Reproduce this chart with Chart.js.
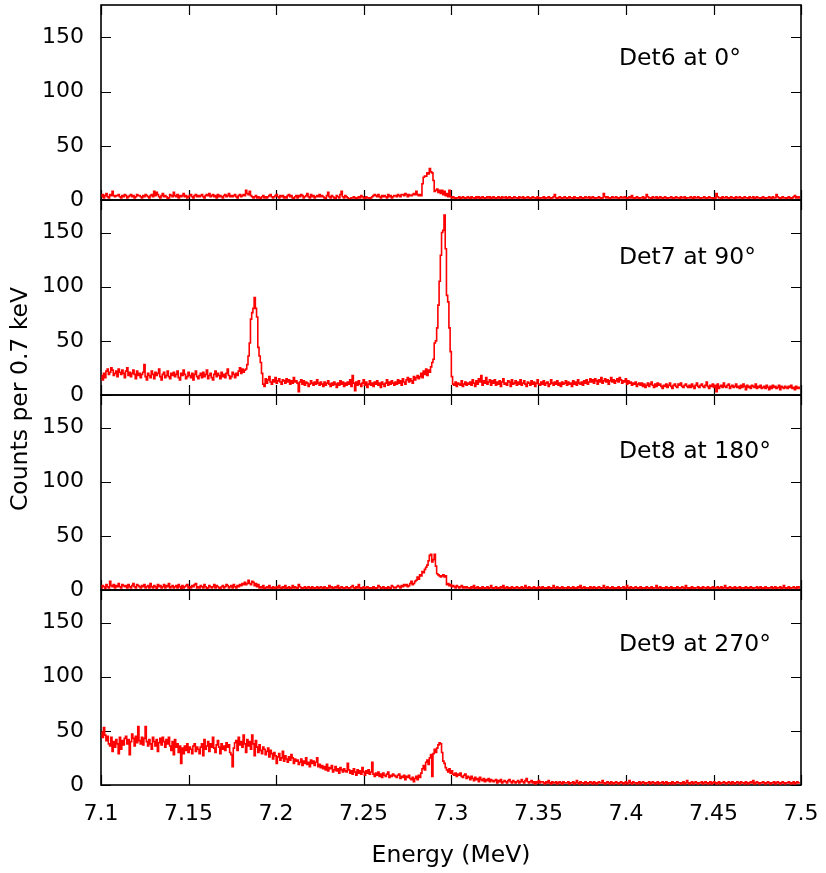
<!DOCTYPE html>
<html>
<head>
<meta charset="utf-8">
<title>Gamma spectra, Det6–Det9</title>
<script src="https://cdn.jsdelivr.net/npm/chart.js@4.4.1/dist/chart.umd.min.js"></script>
<style>
  html, body { margin: 0; padding: 0; background: #ffffff; }
  #wrap { position: relative; width: 826px; height: 873px; }
  #wrap canvas { position: absolute; left: 0; top: 0; }
</style>
</head>
<body>
<div id="wrap">
  <canvas id="p0" width="826" height="873"></canvas>
  <canvas id="p1" width="826" height="873"></canvas>
  <canvas id="p2" width="826" height="873"></canvas>
  <canvas id="p3" width="826" height="873"></canvas>
</div>
<script>
// Histogram binning (MeV)
const energyStart = 7.1;
const binWidth = 0.0007;

// Counts per 0.7 keV bin, starting at 7.1 MeV
const det6Counts = [
  3,5,2,4,6,3,2,5,4,8,4,3,4,4,5,3,2,4,3,5,
  4,2,3,4,5,3,4,2,3,5,4,4,3,2,4,3,5,4,3,2,
  4,5,3,8,4,7,5,3,2,4,6,3,4,3,1,2,5,4,3,7,
  4,3,5,2,4,3,4,6,3,4,2,3,4,5,3,2,4,5,3,4,
  3,4,5,3,2,4,5,4,6,3,4,5,3,4,2,5,3,4,3,2,
  4,5,3,4,6,3,4,3,4,5,3,2,4,5,3,4,5,4,9,6,
  5,8,4,3,2,3,4,2,3,2,1,3,4,2,3,2,3,4,5,3,
  2,3,4,5,3,2,4,3,4,2,3,2,4,5,3,4,2,1,3,4,
  2,4,3,5,4,2,3,4,6,3,2,5,3,4,2,3,4,3,5,3,
  4,3,2,1,4,7,3,2,4,3,2,1,4,3,2,5,8,3,2,4,
  3,2,1,1,2,2,3,2,1,2,3,2,4,3,2,1,3,2,2,1,
  2,3,4,5,4,3,5,3,2,4,3,4,3,2,5,3,4,2,3,4,
  4,3,5,4,3,5,5,4,6,5,3,5,4,4,5,6,5,8,5,4,
  5,4,15,21,22,22,25,24,29,26,25,18,8,9,10,7,9,6,9,5,
  8,4,6,3,9,3,2,3,2,1,2,2,3,1,2,3,2,1,2,3,
  2,1,3,2,2,1,3,2,3,1,2,3,2,1,2,3,2,3,1,2,
  3,2,1,2,3,2,1,3,2,2,3,1,2,3,2,1,2,3,2,2,
  1,3,2,2,3,1,2,2,3,2,1,2,3,2,2,1,3,2,1,2,
  2,3,1,2,2,3,2,1,2,3,5,2,1,2,3,2,1,2,3,2,
  1,2,3,2,2,1,3,2,2,1,2,3,2,1,2,3,2,2,3,1,
  2,3,2,1,2,2,3,2,1,2,6,3,2,3,2,1,2,3,2,2,
  3,2,1,2,3,2,2,3,2,1,2,3,2,4,2,1,2,3,2,1,
  2,2,3,1,2,5,3,2,2,1,3,2,2,3,1,2,3,2,1,2,
  3,2,1,2,2,3,2,1,2,3,2,2,1,3,2,2,3,1,2,2,
  2,3,2,1,3,2,2,3,2,1,2,2,3,2,1,2,3,2,2,1,
  2,1,6,3,2,2,1,3,2,2,3,2,1,2,3,2,2,1,3,2,
  2,3,2,1,2,3,2,2,1,3,2,2,3,1,2,3,2,2,1,2,
  3,2,1,2,2,3,2,1,3,2,2,5,3,2,1,2,3,2,2,1,
  2,3,2,1,2,3,4,2,3,2,3
];

const det7Counts = [
  18,14,20,16,22,24,19,21,25,23,18,20,22,17,24,21,19,23,20,16,
  22,25,18,21,17,20,23,19,15,22,18,20,16,19,21,28,17,14,20,18,
  16,22,19,15,21,18,20,24,17,14,19,21,16,18,22,17,15,20,18,21,
  17,19,22,16,14,20,18,23,19,15,17,21,18,16,20,14,19,22,17,15,
  18,20,16,21,17,19,23,15,18,20,16,14,19,22,17,20,18,15,21,17,
  19,16,20,24,18,15,17,21,19,16,20,18,22,25,20,24,21,23,24,28,
  36,48,70,76,80,90,80,72,44,36,30,20,10,8,15,11,14,17,12,10,
  14,12,16,11,13,15,12,10,14,13,11,15,12,14,10,13,11,16,12,13,
  11,3,12,14,10,13,9,12,11,8,10,13,11,9,12,10,14,11,9,12,
  10,8,12,9,11,13,10,8,11,9,12,10,7,11,9,13,10,12,8,11,
  9,12,10,14,8,18,11,4,12,9,13,10,8,11,14,9,12,7,10,13,
  9,11,8,12,10,13,9,11,7,12,10,8,11,14,9,12,10,13,11,9,
  12,10,14,11,13,9,15,12,10,14,16,12,15,13,11,17,14,16,18,15,
  17,20,16,22,19,24,18,23,21,26,30,33,48,50,62,83,105,129,150,152,
  166,135,92,86,62,40,17,10,9,12,8,11,10,9,13,8,10,12,9,11,
  10,12,9,14,11,8,13,10,15,12,18,9,13,11,16,10,12,14,9,13,
  11,14,9,12,10,13,8,12,15,10,11,9,13,12,8,14,10,11,13,9,
  12,10,14,9,11,13,10,8,12,11,9,13,10,12,8,11,14,10,9,12,
  10,13,9,11,12,8,10,14,11,9,12,10,13,9,11,8,12,10,11,13,
  9,12,10,11,8,13,10,12,9,14,11,10,12,9,13,11,14,10,12,15,
  12,14,11,15,13,10,14,12,16,11,13,15,12,14,10,13,16,12,14,11,
  13,15,12,16,14,11,13,12,15,10,13,11,12,9,11,10,12,8,10,11,
  9,11,8,10,7,9,11,8,10,12,9,7,10,8,11,9,10,8,6,9,
  8,10,7,9,11,8,6,9,10,8,7,10,9,11,8,7,9,10,8,7,
  9,7,10,8,6,9,11,8,7,9,10,8,7,9,12,8,6,9,8,10,
  7,9,3,10,6,8,9,7,11,8,7,9,10,6,8,9,7,8,10,7,
  8,6,9,7,10,8,5,9,7,8,6,9,8,7,10,6,8,7,9,6,
  7,8,6,9,7,5,8,6,9,7,8,6,7,9,5,8,7,6,8,7,
  6,8,7,9,6,7,5,8,6,7,6
];

const det8Counts = [
  2,4,3,1,5,3,2,8,4,3,5,2,4,3,6,3,2,5,4,3,
  4,2,5,3,2,4,6,3,2,5,4,3,2,4,3,5,2,3,4,2,
  6,3,2,4,3,1,5,3,4,2,3,5,2,4,3,6,2,3,4,2,
  3,4,2,5,3,1,4,2,3,4,5,2,3,2,4,3,5,6,2,3,
  2,4,3,2,5,3,1,2,4,3,2,3,5,2,4,3,2,1,3,4,
  2,3,5,4,2,3,4,2,5,3,2,4,3,5,4,6,5,7,5,6,
  9,6,5,8,7,4,6,3,5,2,3,2,4,1,2,3,2,4,2,1,
  3,2,1,3,2,4,2,1,3,2,4,1,2,3,1,2,4,2,3,2,
  1,5,3,2,1,2,3,1,2,3,2,1,3,2,1,2,3,1,2,3,
  2,1,3,2,1,2,4,2,3,1,2,3,2,4,1,2,3,2,1,2,
  3,2,1,2,3,4,2,1,3,2,5,2,1,2,3,1,2,3,2,1,
  2,1,3,2,1,2,4,3,1,2,3,1,2,1,3,2,1,4,3,2,
  2,3,4,3,2,4,3,5,4,5,3,4,6,8,5,6,8,9,12,10,
  14,13,17,16,19,21,23,27,32,33,26,28,33,22,15,14,13,12,13,14,
  12,13,5,6,4,5,3,4,3,2,4,3,2,3,4,2,3,2,3,2,
  2,1,3,2,4,1,2,3,1,2,0,3,2,1,2,3,1,2,4,2,
  1,2,3,1,2,1,3,2,4,1,2,3,1,2,1,3,2,1,2,3,
  2,1,2,3,1,2,4,2,1,3,2,1,2,3,1,2,1,3,2,1,
  3,2,1,2,1,3,2,1,2,4,2,1,3,2,1,2,3,1,2,2,
  1,3,2,1,2,3,1,2,1,3,2,4,1,2,3,1,2,2,1,3,
  2,1,3,2,1,2,3,2,1,2,4,2,1,3,2,1,2,3,1,2,
  1,2,3,1,2,2,3,1,2,4,2,1,3,2,1,2,3,2,1,2,
  3,1,2,2,1,3,2,1,2,3,1,2,2,4,1,2,3,1,2,2,
  1,3,2,1,2,3,1,2,2,1,3,2,1,2,3,2,1,4,2,1,
  2,1,3,2,1,2,2,3,1,2,1,3,2,2,1,3,2,1,2,3,
  1,2,2,3,1,2,3,1,2,4,2,1,2,3,2,1,2,3,1,2,
  2,3,1,2,2,1,3,2,1,2,3,2,1,2,2,3,1,2,3,1,
  2,1,3,2,1,2,2,3,1,2,3,1,2,2,3,1,2,4,2,1,
  2,3,1,2,2,3,2,1,3,2,3
];

const det9Counts = [
  49,44,53,46,41,45,38,36,44,31,40,35,42,38,29,44,33,41,37,43,
  45,38,42,28,40,47,43,36,45,39,54,41,38,44,37,43,54,40,36,42,
  38,33,44,40,36,42,31,39,43,37,44,40,35,42,38,44,36,32,40,28,
  42,35,38,30,36,20,34,29,36,32,38,30,35,33,29,36,38,31,35,33,
  29,35,38,27,42,33,36,40,31,38,35,44,34,30,37,41,35,29,38,33,
  36,32,39,35,37,30,28,17,34,39,41,32,44,37,40,35,46,38,30,42,
  36,40,33,46,38,27,41,35,30,37,32,29,35,33,28,31,34,26,32,29,
  24,30,27,20,26,29,23,25,31,22,27,24,21,26,23,28,25,20,24,22,
  23,19,21,24,18,22,20,25,19,21,17,23,20,22,18,21,25,17,19,16,
  18,15,17,14,19,13,16,15,18,12,14,17,13,15,11,16,14,12,15,13,
  12,20,14,11,13,10,15,12,9,14,11,13,10,16,12,9,13,11,14,10,
  12,21,10,8,11,9,12,8,10,7,11,9,8,10,12,7,9,8,10,9,
  8,7,9,10,6,8,7,9,5,8,7,9,6,5,7,3,6,8,5,9,
  7,11,15,18,14,21,23,19,25,28,8,29,33,30,34,37,39,38,30,22,
  20,16,14,12,15,11,13,10,9,11,8,10,9,11,8,7,9,10,6,8,
  7,5,8,6,4,7,5,6,3,7,5,4,6,3,5,4,6,3,5,4,
  3,4,5,2,4,3,5,2,3,4,3,2,4,5,3,2,4,3,2,3,
  4,2,3,5,3,2,4,6,3,2,3,4,2,3,1,3,2,4,2,3,
  3,2,1,3,2,4,2,1,3,2,2,3,1,2,3,2,1,3,2,2,
  2,3,1,2,2,3,1,2,4,2,1,3,2,2,1,3,2,1,2,3,
  2,1,3,2,1,2,3,2,2,4,2,1,2,3,2,1,3,2,1,2,
  3,2,1,2,3,2,1,2,3,1,2,4,2,1,3,2,2,1,2,3,
  1,2,3,2,1,2,2,3,1,2,3,2,1,2,3,1,2,2,3,1,
  2,3,1,2,2,1,3,2,1,2,3,2,2,1,2,3,1,2,4,2,
  1,2,3,1,2,3,2,1,2,2,3,1,2,3,2,1,2,3,1,2,
  3,2,1,2,3,1,2,2,3,2,1,2,3,2,1,3,2,1,2,3,
  2,1,3,2,2,1,3,2,1,2,3,2,4,1,2,3,2,1,2,2,
  3,2,1,2,3,2,1,2,2,3,1,2,3,2,1,2,3,2,1,2,
  2,3,2,1,2,3,1,2,3,2,2
];

const panelLabels = ['Det6 at 0°', 'Det7 at 90°', 'Det8 at 180°', 'Det9 at 270°'];
const xTickValues = [7.1, 7.15, 7.2, 7.25, 7.3, 7.35, 7.4, 7.45, 7.5];
const xTickLabels = ['7.1', '7.15', '7.2', '7.25', '7.3', '7.35', '7.4', '7.45', '7.5'];
const yTickValues = [0, 50, 100, 150];
const yTickLabels = ['0', '50', '100', '150'];
const xTitle = 'Energy (MeV)';
const yTitle = 'Counts per 0.7 keV';

// ---- page layout ----
const PAGE_W = 826, PAGE_H = 873;
const PLOT_LEFT = 101, PLOT_RIGHT = 801;
const PANEL_TOP0 = 5, PANEL_H = 195;
const Y_AXIS_W = 70;
const X_AXIS_H = PAGE_H - (PANEL_TOP0 + 4 * PANEL_H);
const LABEL_DX = 518;
const LABEL_DY = [60, 64, 63, 61];
const FONT = '"DejaVu Sans", "Liberation Sans", sans-serif';
const TICK_FONT_SIZE = 22;
const TEXT_FONT_SIZE = 23.5;
const TICK_LEN = 10;

const detectors = [det6Counts, det7Counts, det8Counts, det9Counts];

// keep the plot rectangle exactly where the layout padding puts it
function noScalePadding(s) {
  s.paddingLeft = 0; s.paddingRight = 0; s.paddingTop = 0; s.paddingBottom = 0;
}

// Frame with inward ticks on all four sides, drawn under the spectrum
const framePlugin = {
  id: 'panelFrame',
  beforeDatasetsDraw(chart) {
    const { ctx, chartArea: a, scales: { x, y } } = chart;
    ctx.save();
    ctx.strokeStyle = '#000000';
    ctx.lineWidth = 1.2;
    ctx.beginPath();
    xTickValues.forEach(v => {
      const px = Math.round(x.getPixelForValue(v)) + 0.5;
      ctx.moveTo(px, a.bottom); ctx.lineTo(px, a.bottom - TICK_LEN);
      ctx.moveTo(px, a.top); ctx.lineTo(px, a.top + TICK_LEN);
    });
    yTickValues.forEach(v => {
      const py = Math.round(y.getPixelForValue(v)) + 0.5;
      ctx.moveTo(a.left, py); ctx.lineTo(a.left + TICK_LEN, py);
      ctx.moveTo(a.right, py); ctx.lineTo(a.right - TICK_LEN, py);
    });
    ctx.stroke();
    ctx.lineWidth = 1.6;
    ctx.strokeRect(a.left, a.top, a.right - a.left, a.bottom - a.top);
    ctx.restore();
  },
  afterDraw(chart, args, opts) {
    const { ctx, chartArea: a } = chart;
    ctx.save();
    ctx.fillStyle = '#000000';
    ctx.font = TEXT_FONT_SIZE + 'px ' + FONT;
    ctx.textAlign = 'left';
    ctx.textBaseline = 'alphabetic';
    ctx.fillText(opts.label, a.left + LABEL_DX, a.top + opts.dy);
    if (opts.yTitle) {
      ctx.translate(27, PANEL_TOP0 + 2 * PANEL_H + 4);
      ctx.rotate(-Math.PI / 2);
      ctx.textAlign = 'center';
      ctx.fillText(opts.yTitle, 0, 0);
    }
    ctx.restore();
  }
};

function makePanel(idx) {
  const counts = detectors[idx];
  const points = counts.map((c, i) => ({ x: energyStart + (i + 0.5) * binWidth, y: c }));
  const isBottom = idx === detectors.length - 1;
  const top = PANEL_TOP0 + idx * PANEL_H;
  const bottom = top + PANEL_H;
  const tickFont = { family: FONT, size: TICK_FONT_SIZE };

  return new Chart(document.getElementById('p' + idx), {
    type: 'line',
    data: {
      datasets: [{
        data: points,
        stepped: 'middle',
        borderColor: '#ff0000',
        borderWidth: 1.6,
        pointRadius: 0,
        fill: false,
        tension: 0
      }]
    },
    plugins: [framePlugin],
    options: {
      responsive: false,
      animation: false,
      events: [],
      layout: {
        padding: {
          left: PLOT_LEFT - Y_AXIS_W,
          right: PAGE_W - PLOT_RIGHT,
          top: top,
          bottom: isBottom ? 0 : PAGE_H - bottom
        }
      },
      plugins: {
        legend: { display: false },
        tooltip: { enabled: false },
        panelFrame: {
          label: panelLabels[idx],
          dy: LABEL_DY[idx],
          yTitle: isBottom ? yTitle : null
        }
      },
      scales: {
        x: {
          type: 'linear',
          min: 7.1,
          max: 7.5,
          display: isBottom,
          afterBuildTicks: s => { s.ticks = xTickValues.map(v => ({ value: v })); },
          afterFit: s => {
            if (isBottom) s.height = X_AXIS_H;
            noScalePadding(s);
          },
          grid: { display: false, drawTicks: false },
          border: { display: false },
          ticks: {
            autoSkip: false,
            maxRotation: 0,
            padding: 16,
            color: '#000000',
            font: tickFont,
            callback: (v, i) => xTickLabels[i]
          },
          title: {
            display: true,
            text: xTitle,
            color: '#000000',
            font: { family: FONT, size: TEXT_FONT_SIZE },
            padding: { top: 0, bottom: 3 }
          }
        },
        y: {
          min: 0,
          max: 180,
          afterBuildTicks: s => { s.ticks = yTickValues.map(v => ({ value: v })); },
          afterFit: s => {
            s.width = Y_AXIS_W;
            noScalePadding(s);
          },
          grid: { display: false, drawTicks: false },
          border: { display: false },
          ticks: {
            autoSkip: false,
            padding: 17,
            color: '#000000',
            font: tickFont,
            callback: (v, i) => yTickLabels[i]
          }
        }
      }
    }
  });
}

detectors.forEach((d, i) => makePanel(i));
</script>
</body>
</html>
